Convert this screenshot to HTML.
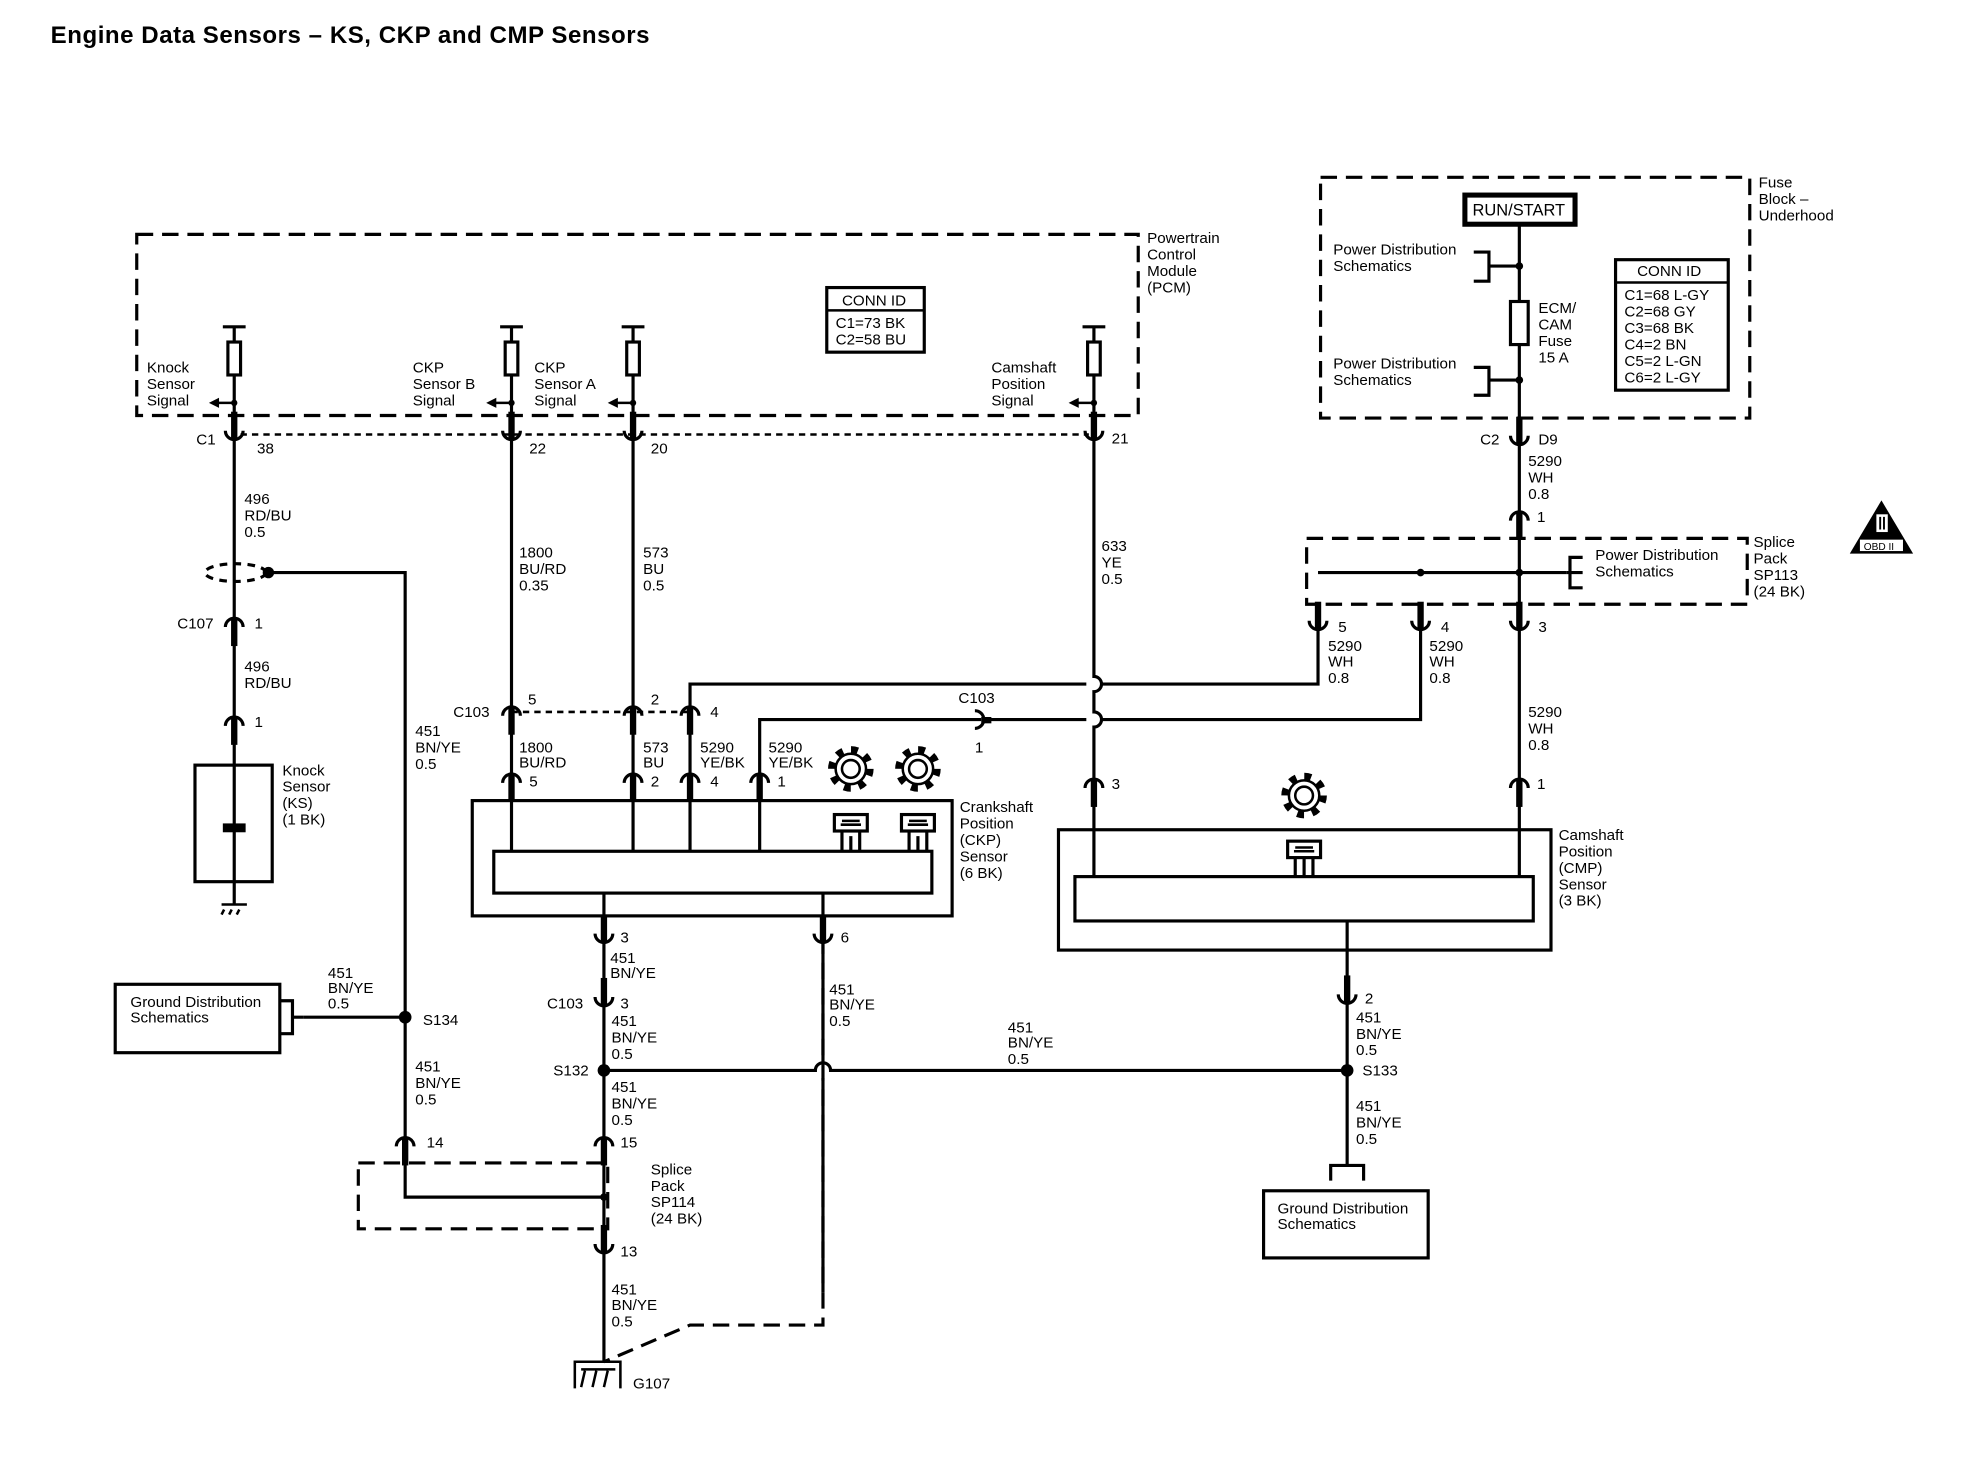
<!DOCTYPE html>
<html><head><meta charset="utf-8"><style>
html,body{margin:0;padding:0;background:#fff}
svg{display:block}
text{font-family:"Liberation Sans",sans-serif;font-size:12px;fill:#000}
</style></head><body>
<svg width="1984" height="1472" viewBox="0 0 1567 1162" preserveAspectRatio="none" xmlns="http://www.w3.org/2000/svg">
<defs>
<g id="cu"><path d="M-7,-3 A7,7 0 0 0 7,-3" fill="none" stroke="#000" stroke-width="2.5"/><rect x="-2.5" y="-18" width="5" height="22" fill="#000"/></g>
<g id="cn"><path d="M-7,3 A7,7 0 0 1 7,3" fill="none" stroke="#000" stroke-width="2.5"/><rect x="-2.5" y="-4" width="5" height="22" fill="#000"/></g>
<g id="gear"><circle r="14" fill="none" stroke="#000" stroke-width="8" stroke-dasharray="5 6"/><circle r="12" fill="#fff"/><circle r="12" fill="none" stroke="#000" stroke-width="2"/><circle r="7" fill="none" stroke="#000" stroke-width="2"/></g>
<g id="sens"><rect x="-13" y="-8" width="26" height="13" fill="#fff" stroke="#000" stroke-width="2.5"/><path d="M-8,0 H8 M-7,-3 H7" stroke="#000" stroke-width="2"/><path d="M-7,5 V20 M7,5 V20" stroke="#000" stroke-width="2.5"/></g>
<g id="pin"><path d="M-9,0 H9 M0,0 V12" stroke="#000" stroke-width="2.5"/><rect x="-5" y="12" width="10" height="26" fill="#fff" stroke="#000" stroke-width="2.5"/><path d="M0,38 V60" stroke="#000" stroke-width="2.5"/><circle cx="0" cy="60" r="2.5"/><path d="M0,60 H-14" stroke="#000" stroke-width="2"/><path d="M-12,56 L-20,60 L-12,64Z"/></g>
</defs>

<text x="40" y="34" style="font-size:19px;font-weight:bold" textLength="473">Engine Data Sensors – KS, CKP and CMP Sensors</text>

<g fill="none" stroke="#000" stroke-width="2.5" stroke-dasharray="13 7">
<rect x="108" y="185" width="791" height="143"/>
<rect x="1043" y="140" width="339" height="190"/>
<rect x="1032" y="425" width="348" height="52"/>
<rect x="283" y="918" width="197" height="52"/>
<path d="M650,740 V1046 H545 L477,1075"/>
</g>
<path d="M190,343 H860 M404,562 H545" stroke="#000" stroke-width="2" stroke-dasharray="5 4" fill="none"/>

<text x="906" y="192">Powertrain</text><text x="906" y="205">Control</text><text x="906" y="218">Module</text><text x="906" y="231">(PCM)</text>
<rect x="653" y="227" width="77" height="51" fill="none" stroke="#000" stroke-width="2.5"/>
<path d="M653,245 H730" stroke="#000" stroke-width="2"/>
<text x="665" y="241">CONN ID</text><text x="660" y="259">C1=73 BK</text><text x="660" y="272">C2=58 BU</text>
<use href="#pin" x="185" y="258"/><use href="#pin" x="404" y="258"/><use href="#pin" x="500" y="258"/><use href="#pin" x="864" y="258"/>
<text x="116" y="294">Knock</text><text x="116" y="307">Sensor</text><text x="116" y="320">Signal</text>
<text x="326" y="294">CKP</text><text x="326" y="307">Sensor B</text><text x="326" y="320">Signal</text>
<text x="422" y="294">CKP</text><text x="422" y="307">Sensor A</text><text x="422" y="320">Signal</text>
<text x="783" y="294">Camshaft</text><text x="783" y="307">Position</text><text x="783" y="320">Signal</text>

<g stroke="#000" stroke-width="2.5" fill="none">
<path d="M185,318 V714"/>
<path d="M404,318 V632 M500,318 V632 M864,318 V534 A6,6 0 0 1 864,546 V562 A6,6 0 0 1 864,574 V692"/>
<path d="M545,672 V540 H858 M870,540 H1041 V493"/>
<path d="M600,672 V568 H775 M780,568 H858 M870,568 H1122 V493"/>
<path d="M404,615 V672 M500,615 V672"/>
<path d="M212,452 H320 V945 H477"/>
<path d="M477,705 V1075 M650,705 V839 M650,851 V1020"/>
<path d="M477,845 H644 A6,6 0 0 1 656,845 H1064"/>
<path d="M1064,727 V920"/>
<path d="M1200,178 V692"/>
<path d="M1041,452 H1237"/>
<path d="M240,803 H320"/>
<path d="M672,660 V672 M725,660 V672 M1030,678 V692"/>
</g>
<ellipse cx="186" cy="452" rx="24" ry="7" fill="none" stroke="#000" stroke-width="2.5" stroke-dasharray="6 5"/>
<circle cx="212" cy="452" r="4.5"/>

<use href="#cu" x="185" y="343"/><use href="#cu" x="404" y="343"/><use href="#cu" x="500" y="343"/><use href="#cu" x="864" y="343"/>
<use href="#cn" x="185" y="492"/><use href="#cn" x="185" y="570"/>
<use href="#cn" x="404" y="562"/><use href="#cn" x="500" y="562"/><use href="#cn" x="545" y="562"/>
<use href="#cn" x="404" y="615"/><use href="#cn" x="500" y="615"/><use href="#cn" x="545" y="615"/><use href="#cn" x="600" y="615"/>
<use href="#cn" x="864" y="619"/><use href="#cn" x="1200" y="619"/>
<use href="#cu" x="477" y="740"/><use href="#cu" x="650" y="740"/><use href="#cu" x="477" y="790"/>
<use href="#cn" x="320" y="902"/><use href="#cn" x="477" y="902"/><use href="#cu" x="477" y="985"/>
<use href="#cu" x="1064" y="788"/>
<use href="#cu" x="1200" y="347"/><use href="#cn" x="1200" y="408"/>
<use href="#cu" x="1041" y="493"/><use href="#cu" x="1122" y="493"/><use href="#cu" x="1200" y="493"/>
<path d="M770,561 A7,7 0 0 1 770,575" fill="none" stroke="#000" stroke-width="2.5"/><rect x="775" y="566" width="8" height="5"/>

<circle cx="1122" cy="452" r="3"/><circle cx="1200" cy="452" r="3"/><circle cx="1200" cy="210" r="3"/><circle cx="1200" cy="300" r="3"/>
<circle cx="320" cy="803" r="5"/><circle cx="477" cy="845" r="5"/><circle cx="1064" cy="845" r="5"/><circle cx="477" cy="945" r="3"/>

<rect x="154" y="604" width="61" height="92" fill="none" stroke="#000" stroke-width="2.5"/>
<rect x="176" y="650" width="18" height="7"/>
<path d="M175,714 H195 M177,718 L175,722 M183,718 L181,722 M189,718 L187,722" stroke="#000" stroke-width="2"/>
<text x="223" y="612">Knock</text><text x="223" y="625">Sensor</text><text x="223" y="638">(KS)</text><text x="223" y="651">(1 BK)</text>

<text x="155" y="351">C1</text><text x="203" y="358">38</text><text x="418" y="358">22</text><text x="514" y="358">20</text><text x="878" y="350">21</text>
<text x="193" y="398">496</text><text x="193" y="411">RD/BU</text><text x="193" y="424">0.5</text>
<text x="140" y="496">C107</text><text x="201" y="496">1</text>
<text x="193" y="530">496</text><text x="193" y="543">RD/BU</text><text x="201" y="574">1</text>
<text x="410" y="440">1800</text><text x="410" y="453">BU/RD</text><text x="410" y="466">0.35</text>
<text x="508" y="440">573</text><text x="508" y="453">BU</text><text x="508" y="466">0.5</text>
<text x="870" y="435">633</text><text x="870" y="448">YE</text><text x="870" y="461">0.5</text>
<text x="358" y="566">C103</text><text x="417" y="556">5</text><text x="514" y="556">2</text><text x="561" y="566">4</text>
<text x="757" y="555">C103</text><text x="770" y="594">1</text>
<text x="410" y="594">1800</text><text x="410" y="606">BU/RD</text><text x="418" y="621">5</text>
<text x="508" y="594">573</text><text x="508" y="606">BU</text><text x="514" y="621">2</text>
<text x="553" y="594">5290</text><text x="553" y="606">YE/BK</text><text x="561" y="621">4</text>
<text x="607" y="594">5290</text><text x="607" y="606">YE/BK</text><text x="614" y="621">1</text>
<text x="878" y="623">3</text><text x="1214" y="623">1</text>
<text x="328" y="581">451</text><text x="328" y="594">BN/YE</text><text x="328" y="607">0.5</text>

<rect x="373" y="632" width="379" height="91" fill="none" stroke="#000" stroke-width="2.5"/>
<rect x="390" y="672" width="346" height="33" fill="none" stroke="#000" stroke-width="2.5"/>
<use href="#gear" x="672" y="607"/><use href="#gear" x="725" y="607"/>
<use href="#sens" x="672" y="651"/><use href="#sens" x="725" y="651"/>
<text x="758" y="641">Crankshaft</text><text x="758" y="654">Position</text><text x="758" y="667">(CKP)</text><text x="758" y="680">Sensor</text><text x="758" y="693">(6 BK)</text>

<rect x="836" y="655" width="389" height="95" fill="none" stroke="#000" stroke-width="2.5"/>
<rect x="849" y="692" width="362" height="35" fill="none" stroke="#000" stroke-width="2.5"/>
<use href="#gear" x="1030" y="628"/><use href="#sens" x="1030" y="672"/>
<text x="1231" y="663">Camshaft</text><text x="1231" y="676">Position</text><text x="1231" y="689">(CMP)</text><text x="1231" y="702">Sensor</text><text x="1231" y="715">(3 BK)</text>

<text x="490" y="744">3</text><text x="664" y="744">6</text>
<text x="482" y="760">451</text><text x="482" y="772">BN/YE</text>
<text x="432" y="796">C103</text><text x="490" y="796">3</text>
<text x="483" y="810">451</text><text x="483" y="823">BN/YE</text><text x="483" y="836">0.5</text>
<text x="437" y="849">S132</text>
<text x="483" y="862">451</text><text x="483" y="875">BN/YE</text><text x="483" y="888">0.5</text>
<text x="490" y="906">15</text><text x="337" y="906">14</text><text x="490" y="992">13</text>
<text x="514" y="927">Splice</text><text x="514" y="940">Pack</text><text x="514" y="953">SP114</text><text x="514" y="966">(24 BK)</text>
<text x="483" y="1022">451</text><text x="483" y="1034">BN/YE</text><text x="483" y="1047">0.5</text>
<text x="500" y="1096">G107</text>
<path d="M454,1096 V1075 H490 V1096" fill="none" stroke="#000" stroke-width="2"/>
<path d="M459,1081 H486 M462,1082 L459,1095 M471,1082 L468,1095 M480,1082 L477,1095" stroke="#000" stroke-width="2"/>
<text x="655" y="785">451</text><text x="655" y="797">BN/YE</text><text x="655" y="810">0.5</text>
<text x="796" y="815">451</text><text x="796" y="827">BN/YE</text><text x="796" y="840">0.5</text>
<text x="328" y="846">451</text><text x="328" y="859">BN/YE</text><text x="328" y="872">0.5</text>
<text x="259" y="772">451</text><text x="259" y="784">BN/YE</text><text x="259" y="796">0.5</text>
<text x="334" y="809">S134</text>
<rect x="91" y="777" width="130" height="54" fill="none" stroke="#000" stroke-width="2.5"/>
<text x="103" y="795">Ground Distribution</text><text x="103" y="807">Schematics</text>
<path d="M221,790 H231 V816 H221 M231,803 H240" fill="none" stroke="#000" stroke-width="2.5"/>
<text x="1078" y="792">2</text>
<text x="1071" y="807">451</text><text x="1071" y="820">BN/YE</text><text x="1071" y="833">0.5</text>
<text x="1076" y="849">S133</text>
<text x="1071" y="877">451</text><text x="1071" y="890">BN/YE</text><text x="1071" y="903">0.5</text>
<path d="M1051,932 V920 H1077 V932" fill="none" stroke="#000" stroke-width="2.5"/>
<rect x="998" y="940" width="130" height="53" fill="none" stroke="#000" stroke-width="2.5"/>
<text x="1009" y="958">Ground Distribution</text><text x="1009" y="970">Schematics</text>

<rect x="1157" y="154" width="87" height="23" fill="#fff" stroke="#000" stroke-width="4"/>
<text x="1163" y="170" style="font-size:13px">RUN/START</text>
<text x="1389" y="148">Fuse</text><text x="1389" y="161">Block –</text><text x="1389" y="174">Underhood</text>
<text x="1053" y="201">Power Distribution</text><text x="1053" y="214">Schematics</text>
<text x="1053" y="291">Power Distribution</text><text x="1053" y="304">Schematics</text>
<path d="M1164,199 H1176 V222 H1164 M1176,210 H1200 M1164,290 H1176 V312 H1164 M1176,300 H1200" fill="none" stroke="#000" stroke-width="2.5"/>
<rect x="1193" y="238" width="14" height="34" fill="#fff" stroke="#000" stroke-width="2.5"/>
<text x="1215" y="247">ECM/</text><text x="1215" y="260">CAM</text><text x="1215" y="273">Fuse</text><text x="1215" y="286">15 A</text>
<rect x="1276" y="205" width="89" height="103" fill="none" stroke="#000" stroke-width="2.5"/>
<path d="M1276,223 H1365" stroke="#000" stroke-width="2"/>
<text x="1293" y="218">CONN ID</text>
<text x="1283" y="237">C1=68 L-GY</text><text x="1283" y="250">C2=68 GY</text><text x="1283" y="263">C3=68 BK</text><text x="1283" y="276">C4=2 BN</text><text x="1283" y="289">C5=2 L-GN</text><text x="1283" y="302">C6=2 L-GY</text>
<text x="1169" y="351">C2</text><text x="1215" y="351">D9</text>
<text x="1207" y="368">5290</text><text x="1207" y="381">WH</text><text x="1207" y="394">0.8</text>
<text x="1214" y="412">1</text>
<path d="M1237,452 H1250 M1250,440 H1240 V464 H1250" fill="none" stroke="#000" stroke-width="2.5"/>
<text x="1260" y="442">Power Distribution</text><text x="1260" y="455">Schematics</text>
<text x="1385" y="432">Splice</text><text x="1385" y="445">Pack</text><text x="1385" y="458">SP113</text><text x="1385" y="471">(24 BK)</text>
<text x="1057" y="499">5</text><text x="1138" y="499">4</text><text x="1215" y="499">3</text>
<text x="1049" y="514">5290</text><text x="1049" y="526">WH</text><text x="1049" y="539">0.8</text>
<text x="1129" y="514">5290</text><text x="1129" y="526">WH</text><text x="1129" y="539">0.8</text>
<text x="1207" y="566">5290</text><text x="1207" y="579">WH</text><text x="1207" y="592">0.8</text>

<path d="M1486,395 L1511,437 L1461,437Z" fill="#000"/>
<rect x="1469" y="426" width="34" height="9" fill="#fff"/>
<text x="1472" y="434" style="font-size:8px">OBD II</text>
<rect x="1482" y="406" width="9" height="14" fill="#fff"/>
<path d="M1485,408 V418 M1488,408 V418" stroke="#000" stroke-width="1.5"/>
</svg>
</body></html>
